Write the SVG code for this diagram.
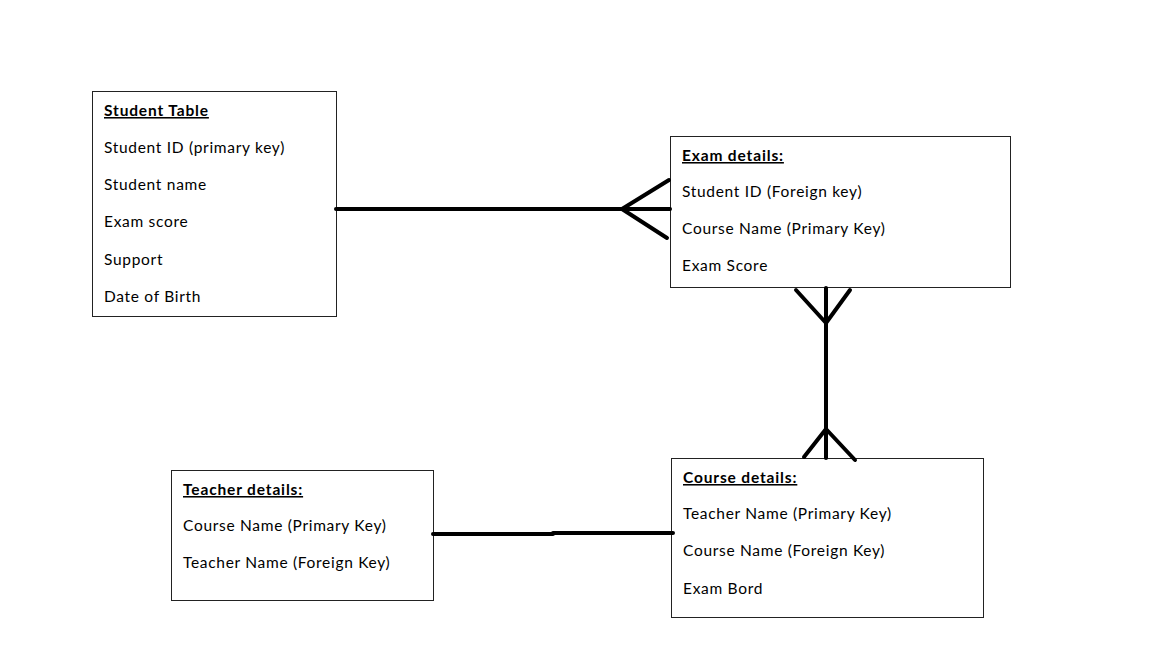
<svg xmlns="http://www.w3.org/2000/svg" width="1152" height="648" viewBox="0 0 1152 648">
<style>
.box{fill:#fff;stroke:#222;stroke-width:1}
text{font-family:Lato,"Open Sans",sans-serif;font-size:15.5px;letter-spacing:0.7px;fill:#000}
.h{font-weight:bold;text-decoration:underline;letter-spacing:0.85px}
.c{fill:none;stroke:#000;stroke-width:4;stroke-linecap:round;stroke-linejoin:round}
</style>
<rect width="1152" height="648" fill="#fff"/>
<g id="student">
<rect class="box" x="92.5" y="91.5" width="244" height="225"/>
<text class="h" x="104" y="116">Student Table</text>
<text x="104" y="153">Student ID (primary key)</text>
<text x="104" y="190">Student name</text>
<text x="104" y="227">Exam score</text>
<text x="104" y="265">Support</text>
<text x="104" y="302">Date of Birth</text>
</g>
<g id="exam">
<rect class="box" x="670.5" y="136.5" width="340" height="151"/>
<text class="h" x="682" y="161">Exam details:</text>
<text x="682" y="197">Student ID (Foreign key)</text>
<text x="682" y="234">Course Name (Primary Key)</text>
<text x="682" y="271">Exam Score</text>
</g>
<g id="teacher">
<rect class="box" x="171.5" y="470.5" width="262" height="130"/>
<text class="h" x="183" y="495">Teacher details:</text>
<text x="183" y="531">Course Name (Primary Key)</text>
<text x="183" y="568">Teacher Name (Foreign Key)</text>
</g>
<g id="course">
<rect class="box" x="671.5" y="458.5" width="312" height="159"/>
<text class="h" x="683" y="483">Course details:</text>
<text x="683" y="519">Teacher Name (Primary Key)</text>
<text x="683" y="556">Course Name (Foreign Key)</text>
<text x="683" y="594">Exam Bord</text>
</g>
<g id="connectors">
<path class="c" d="M336 209H670"/>
<path class="c" d="M669 180L622 209L667 238"/>
<path class="c" d="M826 288V458"/>
<path class="c" d="M796 290L826 323L850 290"/>
<path class="c" d="M804 457L826 429L855 460"/>
<path class="c" d="M433 534H553V533H673"/>
</g>
</svg>
